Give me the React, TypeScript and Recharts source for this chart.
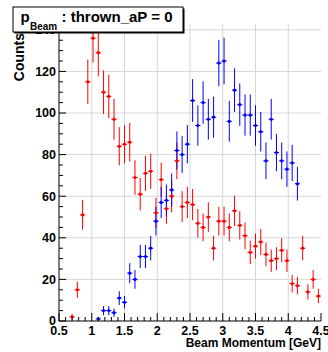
import React from 'react';
import { ComposedChart, Scatter, ErrorBar, XAxis, YAxis, CartesianGrid } from 'recharts';

// Bin centres (GeV), bin width 0.08
const momentum = [
  0.70, 0.78, 0.86, 0.94, 1.02, 1.10, 1.18, 1.26, 1.34, 1.42, 1.50, 1.58,
  1.66, 1.74, 1.82, 1.90, 1.98, 2.06, 2.14, 2.22, 2.30, 2.38, 2.46, 2.54,
  2.62, 2.70, 2.78, 2.86, 2.94, 3.02, 3.10, 3.18, 3.26, 3.34, 3.42, 3.50,
  3.58, 3.66, 3.74, 3.82, 3.90, 3.98, 4.06, 4.14, 4.22, 4.30, 4.38, 4.46,
];
const binHalfWidth = 0.04;

// Red histogram
const redCounts = [
  2, 15, 51, 115, 136, 129, 110, 108, 97, 84, 85, 86,
  69, 61, 71, 72, 52, 68, 54, 60, 77, 55, 57, 56,
  47, 45, 50, 35, 48, 48, 45, 53, 46, 41, 33, 36,
  38, 32, 29, 30, 34, 29, 18, 17, 35, 14, 20, 12,
];
const redErrors = [
  1.4, 3.9, 7.1, 10.7, 11.7, 11.4, 10.5, 10.4, 9.8, 9.2, 9.2, 9.3,
  8.3, 7.8, 8.4, 8.5, 7.2, 8.2, 7.3, 7.7, 8.8, 7.4, 7.5, 7.5,
  6.9, 6.7, 7.1, 5.9, 6.9, 6.9, 6.7, 7.3, 6.8, 6.4, 5.7, 6.0,
  6.2, 5.7, 5.4, 5.5, 5.8, 5.4, 4.2, 4.1, 5.9, 3.7, 4.5, 3.5,
];

// Blue histogram (null = empty bin)
const blueCounts = [
  null, null, null, null, null, 1, 5, 5, 4, 11, 9, 23,
  20, 31, 31, 35, 48, 57, 58, 63, 82, 80, 85, 106,
  94, 105, 97, 98, 124, 125, 96, 111, 104, 99, 99, 94,
  91, 77, 97, 81, 77, 73, 76, 66, null, null, null, null,
];
const blueErrors = [
  null, null, null, null, null, 1.0, 2.2, 2.2, 2.0, 3.3, 3.0, 4.8,
  4.5, 5.6, 5.6, 5.9, 6.9, 7.5, 7.6, 7.9, 9.1, 8.9, 9.2, 10.3,
  9.7, 10.2, 9.8, 9.9, 11.1, 11.2, 9.8, 10.5, 10.2, 9.9, 9.9, 9.7,
  9.5, 8.8, 9.8, 9.0, 8.8, 8.5, 8.7, 8.1, null, null, null, null,
];

const xDomain = [0.5, 4.5];
const yDomain = [0, 142.8];
const xMajorTicks = [0.5, 1, 1.5, 2, 2.5, 3, 3.5, 4, 4.5];
const yMajorTicks = [0, 20, 40, 60, 80, 100, 120, 140];
const xAllTicks = Array.from({ length: 41 }, (_, i) => Math.round((0.5 + 0.1 * i) * 10) / 10);
const yAllTicks = Array.from({ length: 29 }, (_, i) => i * 5);

const titleMain = ': thrown_aP = 0';
const titleSymbol = 'p';
const titleSub = 'Beam';
const xTitle = 'Beam Momentum [GeV]';
const yTitle = 'Counts';

const FONT = '"Liberation Sans", Arial, Helvetica, sans-serif';
const RED = '#ff0000';
const BLUE = '#0000ff';

const redData = momentum.map((m, i) => ({ x: m, y: redCounts[i], ex: binHalfWidth, ey: redErrors[i] }));
const blueData = momentum
  .map((m, i) => ({ x: m, y: blueCounts[i], ex: binHalfWidth, ey: blueErrors[i] }))
  .filter((d) => d.y !== null);

const isMajorX = (v: number) => Math.abs(v * 2 - Math.round(v * 2)) < 1e-6;
const isMajorY = (v: number) => Math.abs(v % 20) < 1e-6;

const BottomTick = (props: any) => {
  const { x, y, payload } = props;
  const major = isMajorX(payload.value);
  return (
    <g>
      <line x1={x} x2={x} y1={y} y2={y - (major ? 8 : 4)} stroke="#000" strokeWidth={1} />
      {major && (
        <text x={x} y={y + 13.5} textAnchor="middle" fontSize={12.5} fontWeight="bold" fontFamily={FONT} fill="#000">
          {String(payload.value)}
        </text>
      )}
    </g>
  );
};

const TopTick = (props: any) => {
  const { x, y, payload } = props;
  const major = isMajorX(payload.value);
  return <line x1={x} x2={x} y1={y} y2={y + (major ? 8 : 4)} stroke="#000" strokeWidth={1} />;
};

const LeftTick = (props: any) => {
  const { x, y, payload } = props;
  const major = isMajorY(payload.value);
  return (
    <g>
      <line x1={x} x2={x + (major ? 7 : 4)} y1={y} y2={y} stroke="#000" strokeWidth={1} />
      {major && (
        <text x={x - 3} y={y + 4.4} textAnchor="end" fontSize={12.5} fontWeight="bold" fontFamily={FONT} fill="#000">
          {String(payload.value)}
        </text>
      )}
    </g>
  );
};

const RightTick = (props: any) => {
  const { x, y, payload } = props;
  const major = isMajorY(payload.value);
  return <line x1={x} x2={x - (major ? 7 : 4)} y1={y} y2={y} stroke="#000" strokeWidth={1} />;
};

const makeMarker = (color: string) => (props: any) => {
  const { cx, cy } = props;
  return <circle cx={cx} cy={cy} r={1.6} fill={color} />;
};

export default function App() {
  return (
    <div style={{ position: 'absolute', left: 0, top: 0, width: 328, height: 352, background: '#fff' }}>
      <ComposedChart
        width={328}
        height={352}
        margin={{ top: 24, right: 7, bottom: 0, left: 0 }}
      >
        <CartesianGrid
          xAxisId="b"
          yAxisId="l"
          stroke="#d6d6d6"
          horizontalValues={yMajorTicks.slice(1)}
          verticalValues={xMajorTicks.slice(1, -1)}
        />
        <XAxis
          xAxisId="b"
          type="number"
          dataKey="x"
          orientation="bottom"
          domain={xDomain}
          ticks={xAllTicks}
          interval={0}
          height={31}
          tickSize={0}
          tickMargin={0}
          tickLine={false}
          axisLine={{ stroke: '#000' }}
          tick={<BottomTick />}
          allowDataOverflow
        />
        <XAxis
          xAxisId="t"
          type="number"
          orientation="top"
          domain={xDomain}
          ticks={xAllTicks}
          interval={0}
          height={0}
          tickSize={0}
          tickMargin={0}
          tickLine={false}
          axisLine={{ stroke: '#000' }}
          tick={<TopTick />}
          allowDataOverflow
        />
        <YAxis
          yAxisId="l"
          type="number"
          orientation="left"
          domain={yDomain}
          ticks={yAllTicks}
          interval={0}
          width={59}
          tickSize={0}
          tickMargin={0}
          tickLine={false}
          axisLine={{ stroke: '#000' }}
          tick={<LeftTick />}
          allowDataOverflow
        />
        <YAxis
          yAxisId="r"
          type="number"
          orientation="right"
          domain={yDomain}
          ticks={yAllTicks}
          interval={0}
          width={0}
          tickSize={0}
          tickMargin={0}
          tickLine={false}
          axisLine={{ stroke: '#000' }}
          tick={<RightTick />}
          allowDataOverflow
        />
        <Scatter
          data={redData}
          xAxisId="b"
          yAxisId="l"
          dataKey="y"
          isAnimationActive={false}
          shape={makeMarker(RED)}
        >
          <ErrorBar dataKey="ey" direction="y" width={0} stroke={RED} strokeWidth={1} isAnimationActive={false} />
          <ErrorBar dataKey="ex" direction="x" width={0} stroke={RED} strokeWidth={1} isAnimationActive={false} />
        </Scatter>
        <Scatter
          data={blueData}
          xAxisId="b"
          yAxisId="l"
          dataKey="y"
          isAnimationActive={false}
          shape={makeMarker(BLUE)}
        >
          <ErrorBar dataKey="ey" direction="y" width={0} stroke={BLUE} strokeWidth={1} isAnimationActive={false} />
          <ErrorBar dataKey="ex" direction="x" width={0} stroke={BLUE} strokeWidth={1} isAnimationActive={false} />
        </Scatter>
      </ComposedChart>
      <svg
        width={328}
        height={352}
        style={{ position: 'absolute', left: 0, top: 0, pointerEvents: 'none' }}
      >
        <text
          transform="translate(24,33) rotate(-90)"
          textAnchor="end"
          fontSize={14}
          fontWeight="bold"
          fontFamily={FONT}
          fill="#000"
        >
          {yTitle}
        </text>
        <text x={321} y={347} textAnchor="end" fontSize={12} fontWeight="bold" fontFamily={FONT} fill="#000">
          {xTitle}
        </text>
        <rect x={14.5} y={8.5} width={170} height={25} fill="#000" />
        <rect x={13} y={7} width={170} height={25} fill="#fff" stroke="#000" strokeWidth={1} />
        <text x={20.5} y={21.5} fontSize={15} fontWeight="bold" fontFamily={FONT} fill="#000">
          {titleSymbol}
        </text>
        <text x={30} y={30} fontSize={10} fontWeight="bold" fontFamily={FONT} fill="#000">
          {titleSub}
        </text>
        <text x={61.5} y={21.5} fontSize={15} fontWeight="bold" fontFamily={FONT} fill="#000">
          {titleMain}
        </text>
      </svg>
    </div>
  );
}
